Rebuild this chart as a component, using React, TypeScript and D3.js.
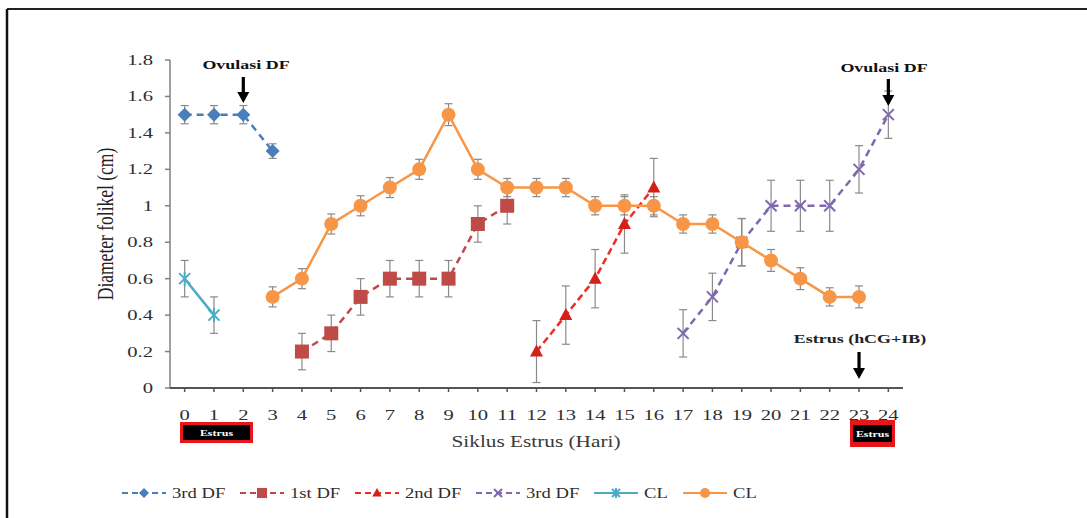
import React from "react";
import * as d3 from "d3";

const xLabels = ["0","1","2","3","4","5","6","7","8","9","10","11","12","13","14","15","16","17","18","19","20","21","22","23","24"];
const yTicks = [0, 0.2, 0.4, 0.6, 0.8, 1, 1.2, 1.4, 1.6, 1.8];

// Series: 3rd DF (blue diamonds)
const df3aDays = ["0", "1", "2", "3"];
const df3aVals = [1.5, 1.5, 1.5, 1.3];
const df3aErr = [0.05, 0.05, 0.05, 0.04];
// 1st DF (dark red squares)
const df1Days = ["4", "5", "6", "7", "8", "9", "10", "11"];
const df1Vals = [0.2, 0.3, 0.5, 0.6, 0.6, 0.6, 0.9, 1.0];
const df1Err = [0.1, 0.1, 0.1, 0.1, 0.1, 0.1, 0.1, 0.1];
// 2nd DF (red triangles)
const df2Days = ["12", "13", "14", "15", "16"];
const df2Vals = [0.2, 0.4, 0.6, 0.9, 1.1];
const df2Err = [0.17, 0.16, 0.16, 0.16, 0.16];
// 3rd DF (purple x)
const df3bDays = ["17", "18", "19", "20", "21", "22", "23", "24"];
const df3bVals = [0.3, 0.5, 0.8, 1.0, 1.0, 1.0, 1.2, 1.5];
const df3bErr = [0.13, 0.13, 0.13, 0.14, 0.14, 0.14, 0.13, 0.13];
// CL (light blue)
const cl1Days = ["0", "1"];
const cl1Vals = [0.6, 0.4];
const cl1Err = [0.1, 0.1];
// CL (orange circles)
const cl2Days = ["3","4","5","6","7","8","9","10","11","12","13","14","15","16","17","18","19","20","21","22","23"];
const cl2Vals = [0.5, 0.6, 0.9, 1.0, 1.1, 1.2, 1.5, 1.2, 1.1, 1.1, 1.1, 1.0, 1.0, 1.0, 0.9, 0.9, 0.8, 0.7, 0.6, 0.5, 0.5];
const cl2Err = [0.055, 0.055, 0.055, 0.055, 0.055, 0.055, 0.06, 0.055, 0.05, 0.05, 0.05, 0.05, 0.05, 0.05, 0.05, 0.05, 0.13, 0.06, 0.06, 0.05, 0.06];

const legendNames = ["3rd DF", "1st DF", "2nd DF", "3rd DF", "CL", "CL"];

type Marker = "diamond" | "square" | "triangle" | "x" | "star" | "circle";
const series = [
  { name: legendNames[0], days: df3aDays, vals: df3aVals, err: df3aErr, color: "#4A7EBB", mcolor: "#4A7EBB", dash: "7,5", marker: "diamond" as Marker },
  { name: legendNames[1], days: df1Days, vals: df1Vals, err: df1Err, color: "#BE4B48", mcolor: "#BE4B48", dash: "7,5", marker: "square" as Marker },
  { name: legendNames[2], days: df2Days, vals: df2Vals, err: df2Err, color: "#EE2A24", mcolor: "#D42019", dash: "7,4", marker: "triangle" as Marker },
  { name: legendNames[3], days: df3bDays, vals: df3bVals, err: df3bErr, color: "#7E68B0", mcolor: "#7E68B0", dash: "7,5", marker: "x" as Marker },
  { name: legendNames[4], days: cl1Days, vals: cl1Vals, err: cl1Err, color: "#4BACC6", mcolor: "#4BACC6", dash: "", marker: "star" as Marker },
  { name: legendNames[5], days: cl2Days, vals: cl2Vals, err: cl2Err, color: "#F79646", mcolor: "#F79646", dash: "", marker: "circle" as Marker },
];

const FONT = "'Liberation Serif', 'Times New Roman', serif";
const SX = 1.33;

function T(p: { x: number; y: number; anchor?: string; size: number; weight?: string | number; fill?: string; rot?: boolean; children: any }) {
  const tr = p.rot
    ? `translate(${p.x},${p.y}) rotate(-90) scale(1,${SX})`
    : `translate(${p.x},${p.y}) scale(${SX},1)`;
  return (
    <text transform={tr} textAnchor={p.anchor || "middle"} fontSize={p.size} fontWeight={p.weight || "normal"} fill={p.fill || "#333"} fontFamily={FONT}>
      {p.children}
    </text>
  );
}

function MarkerShape({ m, cx, cy, color, k = 1 }: { m: Marker; cx: number; cy: number; color: string; k?: number }) {
  const a = 7 * k, b = 5.5 * k;
  switch (m) {
    case "diamond":
      return <path d={`M${cx},${cy - a}L${cx + a},${cy}L${cx},${cy + a}L${cx - a},${cy}Z`} fill={color} />;
    case "square":
      return <rect x={cx - a} y={cy - a} width={2 * a} height={2 * a} fill={color} />;
    case "triangle":
      return <path d={`M${cx},${cy - a}L${cx + 6.5 * k},${cy + 5 * k}L${cx - 6.5 * k},${cy + 5 * k}Z`} fill={color} />;
    case "x":
      return (
        <g stroke={color} strokeWidth={2}>
          <line x1={cx - b} y1={cy - b} x2={cx + b} y2={cy + b} />
          <line x1={cx - b} y1={cy + b} x2={cx + b} y2={cy - b} />
        </g>
      );
    case "star":
      return (
        <g stroke={color} strokeWidth={2}>
          <line x1={cx - b} y1={cy - b} x2={cx + b} y2={cy + b} />
          <line x1={cx - b} y1={cy + b} x2={cx + b} y2={cy - b} />
          <line x1={cx} y1={cy - a} x2={cx} y2={cy + a} />
        </g>
      );
    default:
      return <circle cx={cx} cy={cy} r={a} fill={color} />;
  }
}

function Arrow({ x, y1, y2 }: { x: number; y1: number; y2: number }) {
  const hh = 11;
  return (
    <g fill="#000">
      <rect x={x - 1.6} y={y1} width={3.2} height={y2 - y1 - hh + 1} />
      <path d={`M${x - 6},${y2 - hh}L${x + 6},${y2 - hh}L${x},${y2}Z`} />
    </g>
  );
}

export default function App() {
  const W = 1087, H = 518;
  const x = d3.scaleBand<string>().domain(xLabels).range([170, 903]);
  const cx = (d: string) => (x(d) as number) + x.bandwidth() / 2;
  const y = d3.scaleLinear().domain([0, 1.8]).range([388, 60]);
  const line = d3.line<[number, number]>().x((d) => d[0]).y((d) => d[1]);

  // legend layout
  const lineLen = 44;
  const widths = [52, 49, 55, 52, 23, 23];
  let lx = 122;
  const legendItems = series.map((s, i) => {
    const item = { s, x0: lx };
    lx += lineLen + 6 + widths[i] + 16;
    return item;
  });
  const ly = 493;

  return (
    <div style={{ position: "absolute", left: 0, top: 0 }}>
      <svg width={W} height={H} style={{ display: "block", background: "#fff" }}>
        {/* figure border */}
        <line x1={7} y1={9} x2={W} y2={9} stroke="#222" strokeWidth={2} />
        <line x1={7} y1={9} x2={7} y2={H} stroke="#111" strokeWidth={2.5} />

        {/* y axis */}
        <line x1={170} y1={y(1.8)} x2={170} y2={y(0)} stroke="#808080" strokeWidth={1.5} />
        {yTicks.map((t) => (
          <g key={t}>
            <line x1={165} x2={170} y1={y(t)} y2={y(t)} stroke="#808080" strokeWidth={1.5} />
            <T x={153} y={y(t) + 5} anchor="end" size={15.5} fill="#2e2e2e">{d3.format("~g")(t)}</T>
          </g>
        ))}
        {/* x axis */}
        <line x1={170} y1={y(0)} x2={903} y2={y(0)} stroke="#555" strokeWidth={2} />
        {xLabels.map((l) => (
          <g key={l}>
            <line x1={cx(l)} x2={cx(l)} y1={y(0)} y2={y(0) + 4} stroke="#555" strokeWidth={1.5} />
            <T x={cx(l)} y={420} size={15.5} fill="#2e2e2e">{l}</T>
          </g>
        ))}

        {/* axis titles */}
        <T x={113} y={224} size={17.5} fill="#222" rot>Diameter folikel (cm)</T>
        <T x={536} y={447} size={16} fill="#3a3a3a">Siklus Estrus (Hari)</T>

        {/* series */}
        {series.map((s, si) => {
          const pts: [number, number][] = s.days.map((d, i) => [cx(d), y(s.vals[i])]);
          return (
            <g key={si}>
              {s.days.map((d, i) => (
                <g key={i} stroke="#8a8a8a" strokeWidth={1.2}>
                  <line x1={cx(d)} x2={cx(d)} y1={y(s.vals[i] - s.err[i])} y2={y(s.vals[i] + s.err[i])} />
                  <line x1={cx(d) - 4} x2={cx(d) + 4} y1={y(s.vals[i] - s.err[i])} y2={y(s.vals[i] - s.err[i])} />
                  <line x1={cx(d) - 4} x2={cx(d) + 4} y1={y(s.vals[i] + s.err[i])} y2={y(s.vals[i] + s.err[i])} />
                </g>
              ))}
              <path d={line(pts) || ""} fill="none" stroke={s.color} strokeWidth={2.5} strokeDasharray={s.dash || undefined} />
              {pts.map((p, i) => (
                <MarkerShape key={i} m={s.marker} cx={p[0]} cy={p[1]} color={s.mcolor} />
              ))}
            </g>
          );
        })}

        {/* annotations */}
        <T x={246} y={69} size={13.5} weight="bold" fill="#111">Ovulasi DF</T>
        <Arrow x={cx("2")} y1={77} y2={103} />
        <T x={884} y={72} size={13.5} weight="bold" fill="#111">Ovulasi DF</T>
        <Arrow x={cx("24")} y1={79} y2={106} />
        <T x={860} y={343} size={13.5} weight="bold" fill="#222">Estrus (hCG+IB)</T>
        <Arrow x={cx("23")} y1={352} y2={379} />

        {/* estrus boxes */}
        <rect x={180} y={422} width={73} height={21} fill="#E8161B" />
        <rect x={183} y={425} width={67} height={15} fill="#000" />
        <T x={216.5} y={436} size={9} weight="bold" fill="#fff">Estrus</T>
        <rect x={850} y={420} width={45} height={27} fill="#E8161B" />
        <rect x={853} y={425} width={39} height={17} fill="#000" />
        <T x={872.5} y={437} size={9} weight="bold" fill="#fff">Estrus</T>

        {/* legend */}
        {legendItems.map(({ s, x0 }, i) => (
          <g key={i}>
            <line x1={x0} x2={x0 + lineLen} y1={ly} y2={ly} stroke={s.color} strokeWidth={2.2} strokeDasharray={s.dash ? "6,4" : undefined} />
            <MarkerShape m={s.marker} cx={x0 + lineLen / 2} cy={ly} color={s.mcolor} k={0.72} />
            <T x={x0 + lineLen + 6} y={ly + 5} anchor="start" size={14} fill="#2e2e2e">{s.name}</T>
          </g>
        ))}
      </svg>
    </div>
  );
}
